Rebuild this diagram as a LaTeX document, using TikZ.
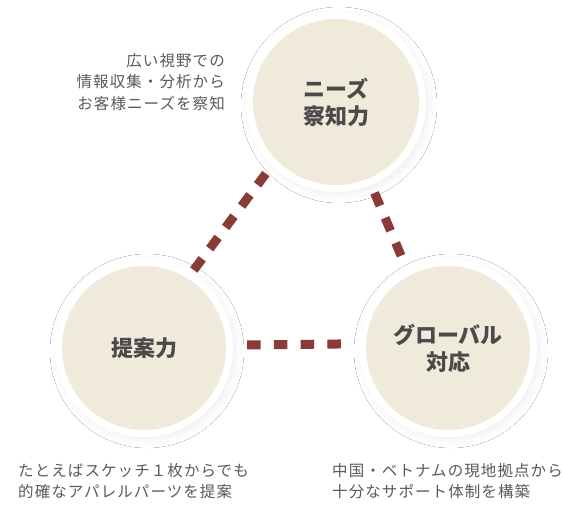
\documentclass[tikz,border=0pt]{standalone}
\usepackage{fontspec}
\setmainfont{Noto Sans CJK JP}
\newfontfamily\jpfont{Noto Sans CJK JP}
\newfontfamily\jptrack[LetterSpace=7]{Noto Sans CJK JP}
\usetikzlibrary{shadows.blur,backgrounds}
\definecolor{beige}{HTML}{F0EADB}
\definecolor{dashred}{HTML}{8A3A37}
\definecolor{labelgray}{HTML}{4A4A4A}
\definecolor{notegray}{HTML}{5A5A5A}
\begin{document}
\begin{tikzpicture}[x=1pt,y=-1pt,
  bubble/.style={circle, fill=beige, inner sep=0pt, outer sep=0pt, minimum size=#1,
    text=labelgray, font=\jpfont\bfseries\fontsize{22}{27}\selectfont, align=center},
  ring/.style={fill=white, blur shadow={shadow xshift=3pt, shadow yshift=-3pt,
    shadow blur radius=8pt, shadow opacity=6}},
  link/.style={draw=dashred, line width=9pt},
  note/.style={text=notegray, font=\jptrack\fontsize{15.5}{21.5}\selectfont, inner sep=0pt}
]
\useasboundingbox (0,0) rectangle (563,505);

\node[bubble=166pt] (needs) at (336,102) {ニーズ\\察知力};
\node[bubble=164pt] (propose) at (144,348) {提案力};
\node[bubble=164pt] (global) at (448,348) {グローバル\\対応};

\begin{scope}[on background layer]
  \fill[white] (0,0) rectangle (563,505);
  \fill[ring] (needs.center) circle (90pt);
  \fill[ring] (propose.center) circle (89pt);
  \fill[ring] (global.center) circle (89pt);
\end{scope}

\draw[link, dash pattern=on 14pt off 12.6pt, shorten <=17.4pt, shorten >=10.5pt]
  (needs.224.2) -- (propose.58.7);
\draw[link, dash pattern=on 14pt off 13.15pt, shorten <=15.7pt, shorten >=21.6pt]
  (needs.293.1) -- (global.118.1);
\draw[link, dash pattern=on 13.5pt off 13.3pt, shorten <=21.1pt, shorten >=25.1pt]
  (propose.2.1) -- (global.177.9);

\node[note, anchor=east, align=right] (n1) at (225,82)
  {広い視野での\\情報収集・分析から\\お客様ニーズを察知};
\node[note, anchor=west, align=left] (n2) at (18,481)
  {たとえばスケッチ１枚からでも\\的確なアパレルパーツを提案};
\node[note, anchor=west, align=left] (n3) at (332,481)
  {中国・ベトナムの現地拠点から\\十分なサポート体制を構築};
\end{tikzpicture}
\end{document}
